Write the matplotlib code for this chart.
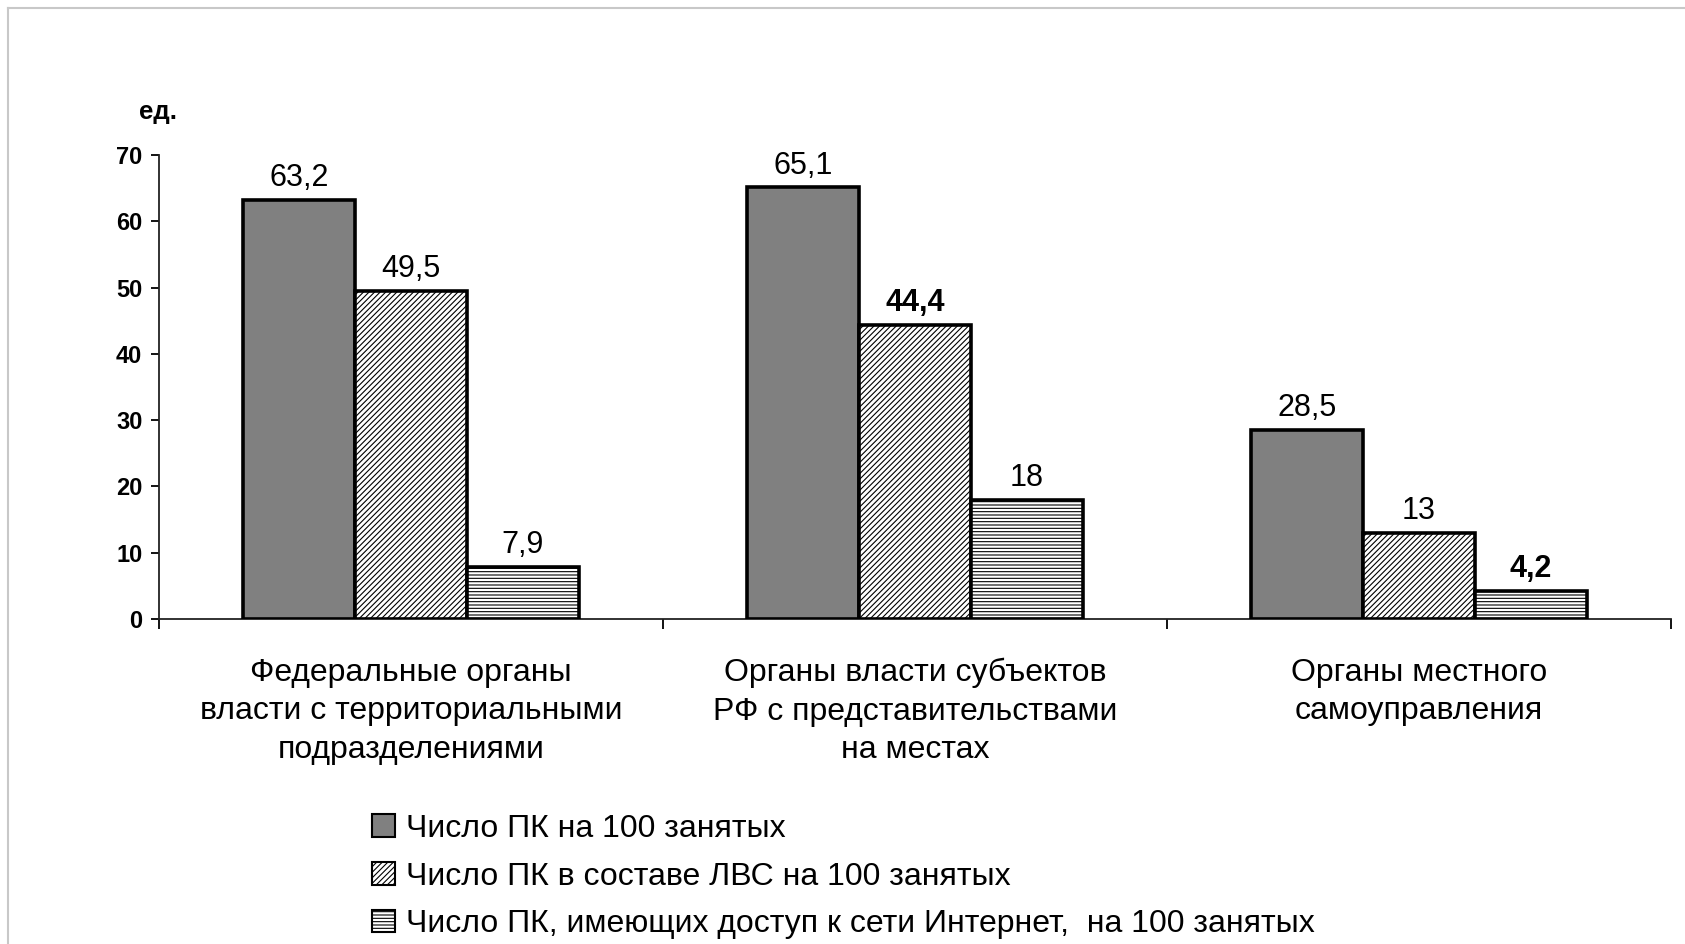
import matplotlib
matplotlib.use("Agg")
import matplotlib.pyplot as plt
from matplotlib.patches import Patch
from matplotlib.lines import Line2D
import numpy as np

plt.rcParams['font.family'] = ['Liberation Sans', 'DejaVu Sans']
plt.rcParams['hatch.linewidth'] = 0.8

categories = ["Федеральные органы\nвласти с территориальными\nподразделениями",
              "Органы власти субъектов\nРФ с представительствами\nна местах",
              "Органы местного\nсамоуправления"]
series_names = ["Число ПК на 100 занятых",
                "Число ПК в составе ЛВС на 100 занятых",
                "Число ПК, имеющих доступ к сети Интернет,  на 100 занятых"]
pcs = [63.2, 65.1, 28.5]
lan = [49.5, 44.4, 13.0]
internet = [7.9, 18.0, 4.2]
label_pcs = ["63,2", "65,1", "28,5"]
label_lan = ["49,5", "44,4", "13"]
label_internet = ["7,9", "18", "4,2"]
yticks = [0, 10, 20, 30, 40, 50, 60, 70]

W, H = 1685, 944
fig = plt.figure(figsize=(W / 100, H / 100), dpi=100)
fig.patch.set_facecolor('white')
ax = fig.add_axes([159 / W, 1 - 619 / H, (1671 - 159) / W, (619 - 155) / H])

x = np.arange(len(categories))
w = 1 / 4.5
styles = [dict(facecolor='#808080', hatch=None),
          dict(facecolor='white', hatch='//////'),
          dict(facecolor='white', hatch='-----')]
data = [pcs, lan, internet]
labels = [label_pcs, label_lan, label_internet]
bold_labels = {"44,4", "4,2"}
for i, (vals, st, labs) in enumerate(zip(data, styles, labels)):
    bars = ax.bar(x + (i - 1) * w, vals, width=w, edgecolor='black',
                  linewidth=2.6, zorder=3, **st)
    for b, lab in zip(bars, labs):
        ax.annotate(lab, (b.get_x() + b.get_width() / 2, b.get_height()),
                    xytext=(0, 5), textcoords='offset points', ha='center', va='bottom',
                    fontsize=22, fontweight='bold' if lab in bold_labels else 'normal',
                    color='black')

ax.set_xlim(-0.5, 2.5)
ax.set_ylim(0, 70)
ax.set_yticks(yticks)
ax.set_yticklabels([str(t) for t in yticks], fontsize=17, fontweight='bold')
ax.tick_params(axis='y', direction='out', length=6, width=1.3, pad=6, colors='black')
ax.set_xticks([-0.5, 0.5, 1.5, 2.5])
ax.set_xticklabels([])
ax.tick_params(axis='x', direction='out', length=7, width=1.3)
for s in ['top', 'right']:
    ax.spines[s].set_visible(False)
for s in ['left', 'bottom']:
    ax.spines[s].set_linewidth(1.3)
    ax.spines[s].set_color('#222222')

for xi, cat in zip(x, categories):
    ax.text(xi, -0.083, cat, transform=ax.get_xaxis_transform(), ha='center', va='top',
            fontsize=23, linespacing=1.38)

fig.text(158 / W, 1 - 112 / H, "ед.", ha='center', va='center', fontsize=18.5,
         fontweight='bold')

handles = [Patch(facecolor=st['facecolor'], hatch=st['hatch'], edgecolor='black',
                 linewidth=1.5) for st in styles]
fig.legend(handles, series_names, loc='upper left',
           bbox_to_anchor=(372 / W, 1 - 814 / H), frameon=False, fontsize=23,
           handlelength=0.72, handleheight=0.72, handletextpad=0.35, labelspacing=0.55,
           borderaxespad=0, borderpad=0)

# light frame lines at top and left of the picture
fig.add_artist(Line2D([8 / W, 1], [1 - 8 / H, 1 - 8 / H], transform=fig.transFigure,
                      color='#c8c8c8', linewidth=1.5))
fig.add_artist(Line2D([8 / W, 8 / W], [0, 1 - 8 / H], transform=fig.transFigure,
                      color='#c8c8c8', linewidth=1.5))

fig.savefig("out.png", dpi=100, facecolor='white')
